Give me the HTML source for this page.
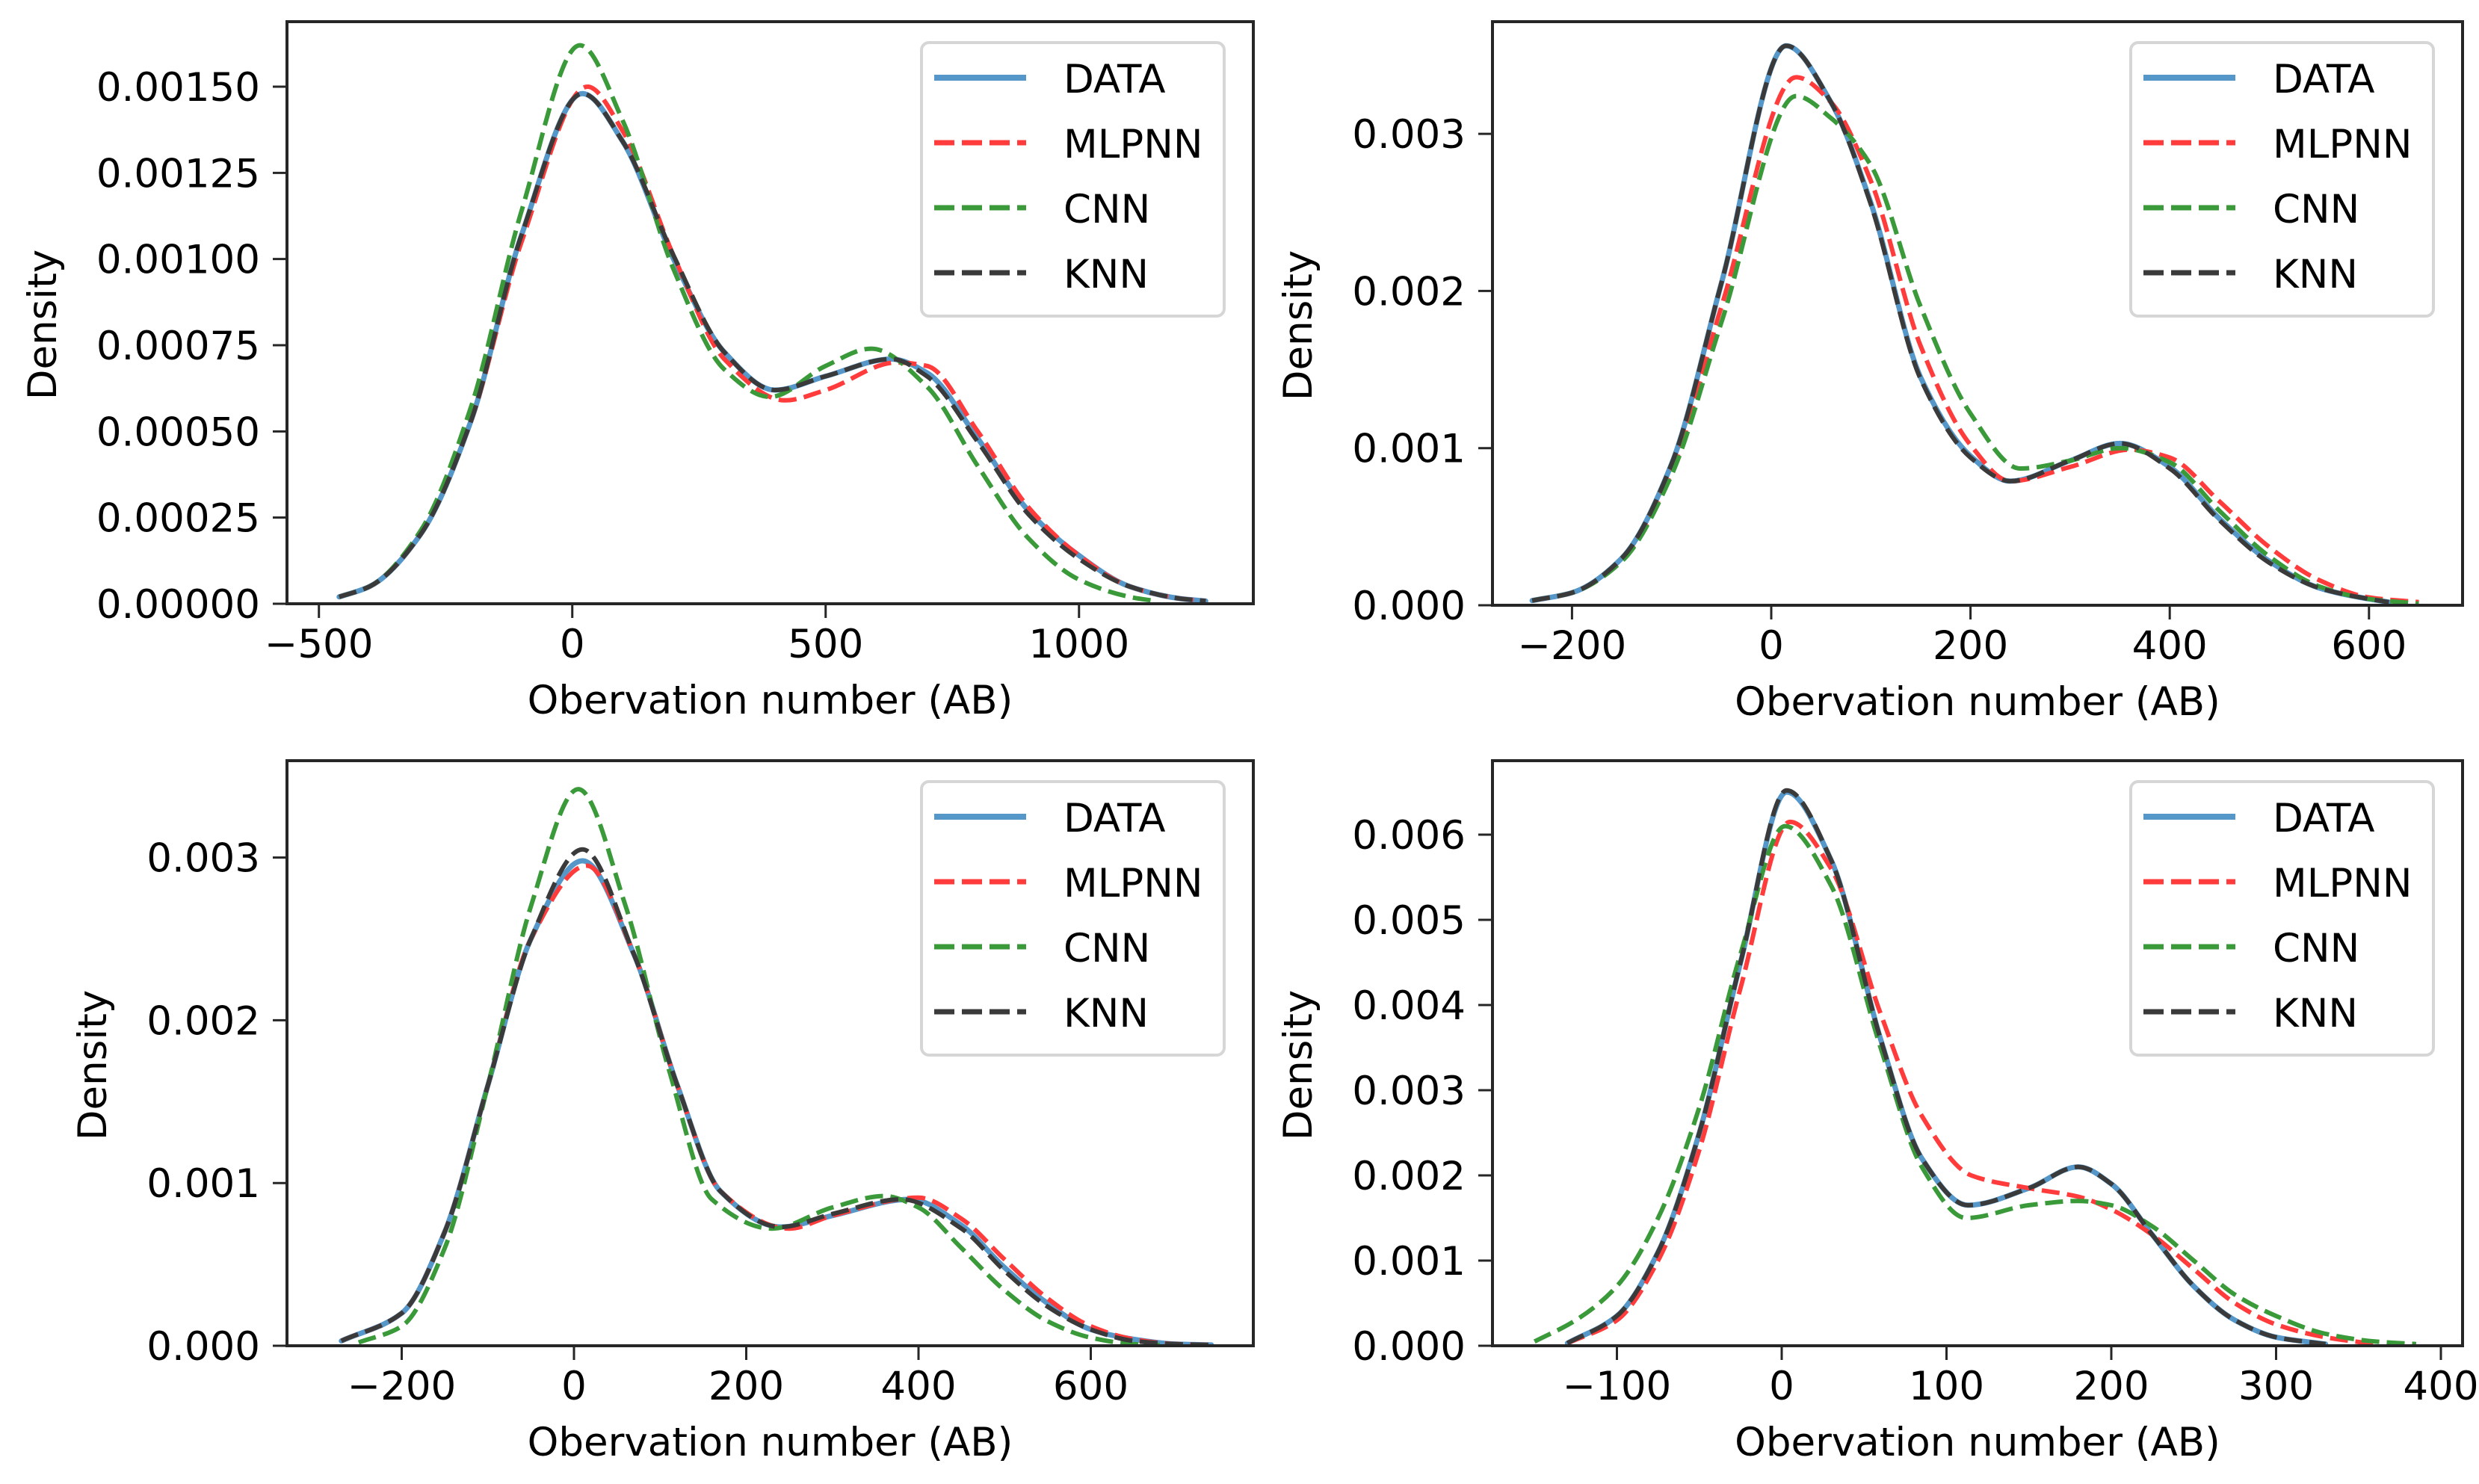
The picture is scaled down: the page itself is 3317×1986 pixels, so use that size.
<!DOCTYPE html>
<html><head><meta charset="utf-8">
<style>
html,body{margin:0;padding:0;background:#fff;}
svg{display:block;}
text{font-family:"DejaVu Sans","Liberation Sans",sans-serif;fill:#000;}
</style></head>
<body>
<svg id="fig" xmlns="http://www.w3.org/2000/svg" width="3317" height="1986" viewBox="0 0 3317 1986"></svg>
<script>
// ---------- Data ----------
const seriesNames = ["DATA","MLPNN","CNN","KNN"];

// Panel 1 (top-left)
const p1_x_data = [-460,-400,-300,-200,-100,20,100,200,300,400,500,630,700,800,900,1000,1100,1200,1250];
const p1_y_data = [0.00002,0.00005,0.00020,0.00053,0.00107,0.00148,0.00134,0.00100,0.00073,0.00062,0.00066,0.00071,0.00067,0.00048,0.00027,0.00014,0.00005,0.000015,0.000008];
const p1_x_mlp = [-460,-400,-300,-200,-100,30,100,200,300,420,500,640,700,800,900,1000,1100,1200,1250];
const p1_y_mlp = [0.00002,0.00005,0.00020,0.00053,0.00105,0.00150,0.00137,0.00101,0.00071,0.00059,0.00062,0.00070,0.00069,0.00050,0.00028,0.00014,0.00005,0.000015,0.000008];
const p1_x_cnn = [-460,-400,-300,-200,-100,15,100,200,300,390,500,590,700,800,900,1000,1100,1150];
const p1_y_cnn = [0.00002,0.00005,0.00021,0.00057,0.00114,0.00162,0.00140,0.00097,0.00068,0.00060,0.00069,0.00074,0.00063,0.00040,0.00019,0.00007,0.00002,0.000008];
const p1_x_knn = [-460,-400,-300,-200,-100,20,100,200,300,400,500,630,700,800,900,1000,1100,1200,1250];
const p1_y_knn = [0.00002,0.00005,0.00020,0.00053,0.00107,0.00148,0.00134,0.00101,0.00073,0.00062,0.00066,0.00071,0.00066,0.00047,0.00026,0.00013,0.00005,0.000015,0.000008];

// Panel 2 (top-right)
const p2_x_data = [-240,-200,-150,-100,-50,15,60,100,150,200,240,300,350,400,450,500,550,600,620];
const p2_y_data = [0.00003,0.00008,0.0003,0.0009,0.00205,0.00356,0.0032,0.00256,0.00145,0.00095,0.00079,0.00092,0.00103,0.00088,0.00055,0.00028,0.00011,0.00004,0.00002];
const p2_x_mlp = [-240,-200,-150,-100,-50,25,60,100,150,200,240,300,360,400,450,500,550,600,650];
const p2_y_mlp = [0.00003,0.00008,0.00029,0.00085,0.0019,0.00336,0.0032,0.0027,0.00165,0.00102,0.00079,0.00088,0.00099,0.00094,0.00066,0.00037,0.00016,0.00005,0.00002];
const p2_x_cnn = [-240,-200,-150,-100,-50,25,60,100,150,200,250,300,350,400,450,500,550,600,650];
const p2_y_cnn = [0.00003,0.00008,0.00028,0.00083,0.0018,0.00324,0.0031,0.0028,0.0019,0.00122,0.00087,0.00092,0.00100,0.00091,0.00060,0.00031,0.00012,0.00004,0.00001];
const p2_x_knn = [-240,-200,-150,-100,-50,15,60,100,150,200,240,300,350,400,450,500,550,600,620];
const p2_y_knn = [0.00003,0.00008,0.0003,0.0009,0.00205,0.00356,0.0032,0.00255,0.00144,0.00094,0.00079,0.00092,0.00103,0.00087,0.00054,0.00027,0.00011,0.00004,0.00002];

// Panel 3 (bottom-left)
const p3_x_data = [-270,-200,-150,-100,-50,10,70,120,170,240,300,390,450,500,550,600,650,700,740];
const p3_y_data = [0.00003,0.0002,0.0007,0.0016,0.0025,0.00298,0.0024,0.0016,0.00095,0.00073,0.0008,0.0009,0.00074,0.00048,0.00026,0.0001,0.00004,0.00001,0.000005];
const p3_x_mlp = [-270,-200,-150,-100,-50,15,70,120,170,250,300,400,450,500,550,600,650,700,740];
const p3_y_mlp = [0.00003,0.0002,0.0007,0.0016,0.0025,0.00295,0.0024,0.0016,0.00095,0.00072,0.0008,0.00091,0.00078,0.00053,0.00029,0.00012,0.00004,0.00001,0.000005];
const p3_x_cnn = [-250,-200,-150,-100,-50,5,60,110,160,230,300,360,400,450,500,550,600,650,680];
const p3_y_cnn = [0.00002,0.00012,0.0006,0.0016,0.0027,0.00342,0.0027,0.0017,0.0009,0.00072,0.00085,0.00092,0.00085,0.0006,0.00034,0.00015,0.00005,0.00001,0.000005];
const p3_x_knn = [-270,-200,-150,-100,-50,10,70,120,170,240,300,380,450,500,550,600,650,700,740];
const p3_y_knn = [0.00003,0.0002,0.0007,0.0016,0.0025,0.00305,0.0024,0.0016,0.00095,0.00073,0.00081,0.0009,0.00072,0.00046,0.00024,0.0001,0.00003,0.00001,0.000005];

// Panel 4 (bottom-right)
const p4_x_data = [-130,-100,-75,-50,-25,3,30,60,85,113,150,180,200,225,250,275,300,330];
const p4_y_data = [0.00003,0.00035,0.0011,0.0025,0.0045,0.0065,0.0057,0.0036,0.0022,0.00165,0.00185,0.0021,0.0019,0.0013,0.0007,0.0003,0.0001,0.00002];
const p4_x_mlp = [-130,-100,-75,-50,-25,5,30,60,85,115,150,180,200,225,250,275,300,330,360];
const p4_y_mlp = [0.00003,0.0003,0.0010,0.0023,0.0042,0.00615,0.0056,0.0039,0.0027,0.0020,0.00185,0.00175,0.0016,0.0013,0.0009,0.0005,0.00025,0.0001,0.00002];
const p4_x_cnn = [-150,-125,-100,-75,-50,-25,2,30,60,85,112,150,180,200,225,250,275,300,330,360,385];
const p4_y_cnn = [0.00005,0.0003,0.0007,0.0015,0.0028,0.0046,0.0061,0.0054,0.0035,0.0021,0.0015,0.00165,0.0017,0.00165,0.0014,0.0010,0.0006,0.00035,0.00014,0.00005,0.00002];
const p4_x_knn = [-130,-100,-75,-50,-25,3,30,60,85,113,150,180,200,225,250,275,300,330];
const p4_y_knn = [0.00003,0.00035,0.0011,0.0025,0.0045,0.00652,0.0057,0.0036,0.0022,0.00165,0.00185,0.0021,0.0019,0.0013,0.0007,0.0003,0.0001,0.00002];

// Tick labels
const p1_xticks = [-500,0,500,1000];
const p1_yticks = [0,0.00025,0.0005,0.00075,0.001,0.00125,0.0015];
const p1_ylabels = ["0.00000","0.00025","0.00050","0.00075","0.00100","0.00125","0.00150"];
const p2_xticks = [-200,0,200,400,600];
const p2_yticks = [0,0.001,0.002,0.003];
const p2_ylabels = ["0.000","0.001","0.002","0.003"];
const p3_xticks = [-200,0,200,400,600];
const p3_yticks = [0,0.001,0.002,0.003];
const p3_ylabels = ["0.000","0.001","0.002","0.003"];
const p4_xticks = [-100,0,100,200,300,400];
const p4_yticks = [0,0.001,0.002,0.003,0.004,0.005,0.006];
const p4_ylabels = ["0.000","0.001","0.002","0.003","0.004","0.005","0.006"];

// ---------- Layout ----------
const NS = "http://www.w3.org/2000/svg";
const fig = document.getElementById('fig');
const colors = {DATA:"#5597c9", MLPNN:"#ff3b3b", CNN:"#3a9a3a", KNN:"#3a3a3a"};
const FS = 53;

function mk(tag, attrs, parent){
  const e = document.createElementNS(NS, tag);
  for (const k in attrs) e.setAttribute(k, attrs[k]);
  (parent||fig).appendChild(e);
  return e;
}
function fmtMinus(v){ return v<0 ? "\u2212"+Math.abs(v) : String(v); }

// Monotone cubic (Fritsch-Carlson) path through pixel points
function smoothPath(pts){
  const n = pts.length;
  const dx=[], dy=[], s=[];
  for (let i=0;i<n-1;i++){ dx.push(pts[i+1][0]-pts[i][0]); dy.push(pts[i+1][1]-pts[i][1]); s.push(dy[i]/dx[i]); }
  const m = new Array(n);
  m[0]=s[0]; m[n-1]=s[n-2];
  for (let i=1;i<n-1;i++){
    if (s[i-1]*s[i] <= 0) m[i]=0;
    else { const w1=2*dx[i]+dx[i-1], w2=dx[i]+2*dx[i-1]; m[i]=(w1+w2)/(w1/s[i-1]+w2/s[i]); }
  }
  let d = "M"+pts[0][0].toFixed(1)+","+pts[0][1].toFixed(1);
  for (let i=0;i<n-1;i++){
    const h=dx[i];
    const c1x=pts[i][0]+h/3, c1y=pts[i][1]+m[i]*h/3;
    const c2x=pts[i+1][0]-h/3, c2y=pts[i+1][1]-m[i+1]*h/3;
    d += " C"+c1x.toFixed(1)+","+c1y.toFixed(1)+" "+c2x.toFixed(1)+","+c2y.toFixed(1)+" "+pts[i+1][0].toFixed(1)+","+pts[i+1][1].toFixed(1);
  }
  return d;
}

function panel(id, box, xdom, ydom, xticks, yticks, ylabels, series, ylabX){
  const g = mk('g', {});
  
  
  const [L,T,R,B] = box;
  const sx = v => L + (v - xdom[0])/(xdom[1]-xdom[0])*(R-L);
  const sy = v => B - (v - ydom[0])/(ydom[1]-ydom[0])*(B-T);
  const cp = mk('clipPath', {id:id+"-clip"}, g);
  mk('rect', {x:L, y:T, width:R-L, height:B-T}, cp);
  const order = ["DATA","MLPNN","CNN","KNN"];
  order.forEach(name=>{
    const s = series[name];
    const pts = s.x.map((xv,i)=>[sx(xv), sy(s.y[i])]);
    const p = mk('path', {d:smoothPath(pts), fill:"none", stroke:colors[name], "stroke-width": name==="DATA"?7:6, "clip-path":"url(#"+id+"-clip)", "stroke-linecap": name==="DATA"?"round":"butt"}, g);
    if (name!=="DATA") p.setAttribute('stroke-dasharray', "24,10");
    
    
  });
  const fr = mk('rect', {x:L, y:T, width:R-L, height:B-T, fill:"none", stroke:"#262626", "stroke-width":4}, g);
  
  
  xticks.forEach(v=>{
    const x = sx(v);
    mk('line', {x1:x, y1:B, x2:x, y2:B+19, stroke:"#262626", "stroke-width":3}, g);
    const t = mk('text', {x:x, y:B+72, "font-size":FS, "text-anchor":"middle"}, g);
    t.textContent = fmtMinus(v);
    
    
  });
  yticks.forEach((v,i)=>{
    const y = sy(v);
    mk('line', {x1:L-19, y1:y, x2:L, y2:y, stroke:"#262626", "stroke-width":3}, g);
    const t = mk('text', {x:L-36, y:y+19, "font-size":FS, "text-anchor":"end"}, g);
    t.textContent = ylabels[i];
    
    
  });
  const xl = mk('text', {x:(L+R)/2, y:B+147, "font-size":FS, "text-anchor":"middle"}, g);
  xl.textContent = "Obervation number (AB)";
  
  
  const cy = (T+B)/2 + 16;
  const yl = mk('text', {x:ylabX, y:cy, "font-size":FS, "text-anchor":"middle", transform:"rotate(-90 "+ylabX+" "+cy+")"}, g);
  yl.textContent = "Density";
  
  
  const lg = mk('g', {}, g);
  
  
  const lx = R-444, ly = T+28;
  mk('rect', {x:lx, y:ly, width:405, height:366, rx:10, fill:"#fff", "fill-opacity":0.8, stroke:"#d6d6d6", "stroke-width":4}, lg);
  order.forEach((name,i)=>{
    const y = ly+47+i*87;
    const ln = mk('line', {x1:lx+17, y1:y, x2:lx+140, y2:y, stroke:colors[name], "stroke-width": name==="DATA"?8:7}, lg);
    if (name!=="DATA") ln.setAttribute('stroke-dasharray', "27,10");
    
    
    const t = mk('text', {x:lx+190, y:y+20, "font-size":FS}, lg);
    t.textContent = name;
    
    
  });
}

panel("panel-top-left", [384,29,1677,808], [-563, 1344], [0, 0.0015*(808-29)/(808-116)], p1_xticks, p1_yticks, p1_ylabels,
  {DATA:{x:p1_x_data,y:p1_y_data}, MLPNN:{x:p1_x_mlp,y:p1_y_mlp}, CNN:{x:p1_x_cnn,y:p1_y_cnn}, KNN:{x:p1_x_knn,y:p1_y_knn}}, 75);
panel("panel-top-right", [1997,29,3295,810], [(1997-2370)/1.333, (3295-2370)/1.333], [0, 0.001*(810-29)/210.3], p2_xticks, p2_yticks, p2_ylabels,
  {DATA:{x:p2_x_data,y:p2_y_data}, MLPNN:{x:p2_x_mlp,y:p2_y_mlp}, CNN:{x:p2_x_cnn,y:p2_y_cnn}, KNN:{x:p2_x_knn,y:p2_y_knn}}, 1755);
panel("panel-bottom-left", [384,1018,1677,1801], [(384-768)/1.1525, (1677-768)/1.1525], [0, 0.001*(1801-1018)/217.8], p3_xticks, p3_yticks, p3_ylabels,
  {DATA:{x:p3_x_data,y:p3_y_data}, MLPNN:{x:p3_x_mlp,y:p3_y_mlp}, CNN:{x:p3_x_cnn,y:p3_y_cnn}, KNN:{x:p3_x_knn,y:p3_y_knn}}, 142);
panel("panel-bottom-right", [1997,1018,3295,1801], [(1997-2384)/2.205, (3295-2384)/2.205], [0, 0.001*(1801-1018)/114], p4_xticks, p4_yticks, p4_ylabels,
  {DATA:{x:p4_x_data,y:p4_y_data}, MLPNN:{x:p4_x_mlp,y:p4_y_mlp}, CNN:{x:p4_x_cnn,y:p4_y_cnn}, KNN:{x:p4_x_knn,y:p4_y_knn}}, 1755);
</script>
</body></html>
